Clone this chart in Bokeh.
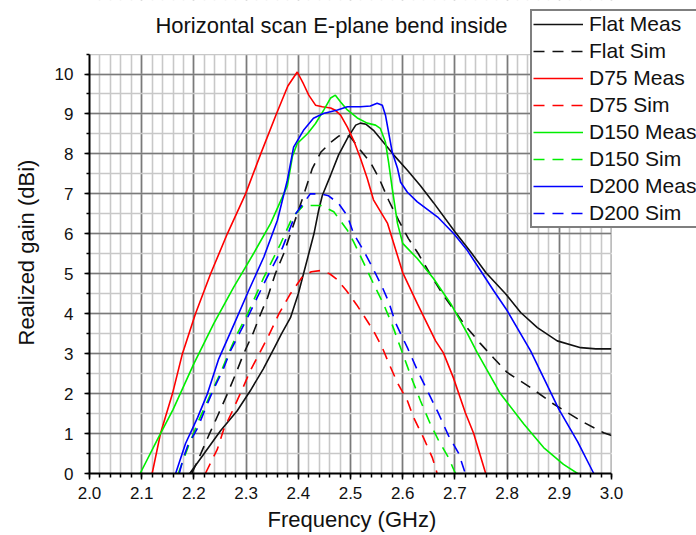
from bokeh.plotting import figure
from bokeh.models import (Range1d, SingleIntervalTicker, NumeralTickFormatter,
                          Legend, LegendItem, Label, BoxAnnotation, Title)
from bokeh.embed import file_html
from bokeh.resources import INLINE

# Realized gain (dBi) versus frequency (GHz) for the flat and bent antennas
flat_meas_f = [2.192, 2.219, 2.251, 2.283, 2.308, 2.333, 2.353, 2.368, 2.385, 2.400,
               2.410, 2.420, 2.430, 2.439, 2.446, 2.462, 2.477, 2.494, 2.510, 2.519,
               2.530, 2.544, 2.563, 2.583, 2.609, 2.634, 2.659, 2.700, 2.730, 2.760,
               2.797, 2.826, 2.858, 2.896, 2.941, 2.970, 3.000]
flat_meas_g = [0.0, 0.49, 1.07, 1.57, 2.07, 2.62, 3.12, 3.50, 3.90, 4.50,
               5.00, 5.50, 6.00, 6.59, 6.96, 7.47, 7.97, 8.39, 8.72, 8.77,
               8.74, 8.59, 8.29, 7.97, 7.59, 7.20, 6.78, 6.05, 5.55, 5.02,
               4.50, 4.03, 3.65, 3.32, 3.15, 3.12, 3.12]

flat_sim_f = [2.196, 2.213, 2.228, 2.247, 2.264, 2.280, 2.295, 2.313, 2.328, 2.341,
              2.356, 2.372, 2.385, 2.398, 2.410, 2.427, 2.443, 2.462, 2.478, 2.490,
              2.500, 2.519, 2.538, 2.554, 2.573, 2.592, 2.611, 2.630, 2.650, 2.676,
              2.698, 2.720, 2.749, 2.775, 2.800, 2.845, 2.889, 2.941, 2.985, 3.000]
flat_sim_g = [0.0, 0.49, 0.94, 1.49, 1.99, 2.49, 2.99, 3.50, 4.00, 4.40,
              5.00, 5.50, 6.00, 6.50, 6.96, 7.64, 8.04, 8.29, 8.45, 8.48,
              8.42, 8.09, 7.79, 7.41, 6.84, 6.34, 5.88, 5.50, 5.05, 4.50,
              4.10, 3.70, 3.25, 2.88, 2.53, 2.15, 1.74, 1.32, 1.02, 0.95]

d75_meas_f = [2.120, 2.136, 2.159, 2.178, 2.203, 2.232, 2.264, 2.299, 2.328, 2.358,
              2.380, 2.398, 2.410, 2.420, 2.433, 2.446, 2.462, 2.470, 2.481, 2.494,
              2.506, 2.519, 2.532, 2.544, 2.571, 2.600, 2.628, 2.663, 2.678, 2.697,
              2.720, 2.736, 2.759]
d75_meas_g = [0.0, 1.00, 2.00, 3.00, 4.00, 5.00, 6.00, 7.00, 8.00, 9.00,
              9.70, 10.05, 9.75, 9.47, 9.22, 9.18, 9.15, 9.10, 8.97, 8.67,
              8.34, 7.89, 7.39, 6.85, 6.26, 5.03, 4.25, 3.32, 3.02, 2.40,
              1.52, 1.00, 0.0]

d75_sim_f = [2.222, 2.245, 2.257, 2.274, 2.293, 2.308, 2.328, 2.345, 2.363, 2.385,
             2.408, 2.425, 2.443, 2.460, 2.475, 2.492, 2.512, 2.529, 2.545, 2.561,
             2.573, 2.590, 2.609, 2.621, 2.640, 2.657, 2.666]
d75_sim_g = [0.0, 0.61, 1.10, 1.57, 2.12, 2.57, 3.07, 3.50, 4.00, 4.50,
             4.93, 5.05, 5.08, 5.00, 4.85, 4.58, 4.22, 3.88, 3.55, 3.15,
             2.77, 2.27, 1.82, 1.40, 0.89, 0.39, 0.0]

d150_meas_f = [2.097, 2.130, 2.160, 2.200, 2.238, 2.276, 2.314, 2.347, 2.379, 2.389,
               2.398, 2.418, 2.433, 2.449, 2.462, 2.471, 2.481, 2.494, 2.513, 2.532,
               2.548, 2.557, 2.567, 2.573, 2.580, 2.590, 2.600, 2.628, 2.659, 2.692,
               2.724, 2.743, 2.787, 2.832, 2.870, 2.908, 2.935]
d150_meas_g = [0.0, 0.85, 1.60, 2.75, 3.75, 4.66, 5.50, 6.26, 7.20, 7.95,
               8.26, 8.51, 8.76, 9.10, 9.40, 9.47, 9.30, 9.10, 8.90, 8.77,
               8.72, 8.64, 8.29, 7.79, 7.13, 6.26, 5.76, 5.38, 4.88, 4.25,
               3.50, 3.02, 2.00, 1.24, 0.65, 0.23, 0.0]

d150_sim_f = [2.170, 2.190, 2.210, 2.232, 2.251, 2.266, 2.283, 2.303, 2.334, 2.366,
              2.389, 2.410, 2.443, 2.468, 2.494, 2.506, 2.525, 2.544, 2.563, 2.580,
              2.600, 2.619, 2.634, 2.653, 2.669, 2.688, 2.701]
d150_sim_g = [0.0, 0.70, 1.35, 1.99, 2.52, 2.99, 3.50, 4.00, 4.91, 5.75,
              6.42, 6.71, 6.71, 6.55, 6.09, 5.80, 5.28, 4.75, 4.25, 3.72,
              3.00, 2.32, 1.82, 1.24, 0.82, 0.39, 0.0]

d200_meas_f = [2.165, 2.184, 2.207, 2.226, 2.247, 2.277, 2.305, 2.334, 2.360, 2.379,
               2.391, 2.410, 2.429, 2.448, 2.475, 2.494, 2.519, 2.538, 2.551, 2.561,
               2.567, 2.573, 2.580, 2.590, 2.596, 2.609, 2.628, 2.667, 2.698, 2.724,
               2.749, 2.774, 2.800, 2.845, 2.899, 2.935, 2.966]
d200_meas_g = [0.0, 0.75, 1.40, 2.00, 2.85, 3.74, 4.58, 5.42, 6.34, 7.34,
               8.17, 8.59, 8.89, 9.01, 9.10, 9.18, 9.18, 9.20, 9.27, 9.22,
               8.97, 8.54, 8.04, 7.64, 7.29, 7.04, 6.80, 6.42, 6.00, 5.58,
               5.08, 4.58, 4.08, 3.07, 1.61, 0.80, 0.0]

d200_sim_f = [2.172, 2.180, 2.188, 2.207, 2.222, 2.238, 2.255, 2.270, 2.303, 2.337,
              2.370, 2.395, 2.423, 2.443, 2.458, 2.477, 2.494, 2.506, 2.525, 2.542,
              2.561, 2.573, 2.586, 2.596, 2.609, 2.630, 2.650, 2.669, 2.688, 2.707,
              2.720]
d200_sim_g = [0.0, 0.40, 0.69, 1.14, 1.62, 2.12, 2.57, 3.07, 3.91, 4.83,
              5.66, 6.50, 7.00, 7.00, 6.95, 6.76, 6.45, 6.00, 5.58, 5.16,
              4.66, 4.30, 3.78, 3.50, 3.15, 2.53, 2.00, 1.49, 0.94, 0.51,
              0.0]

series = [
    ("Flat Meas", flat_meas_f, flat_meas_g, "#111111", "solid"),
    ("Flat Sim", flat_sim_f, flat_sim_g, "#111111", "11 8"),
    ("D75 Meas", d75_meas_f, d75_meas_g, "#ff0000", "solid"),
    ("D75 Sim", d75_sim_f, d75_sim_g, "#ff0000", "11 8"),
    ("D150 Meas", d150_meas_f, d150_meas_g, "#00ee00", "solid"),
    ("D150 Sim", d150_sim_f, d150_sim_g, "#00ee00", "11 8"),
    ("D200 Meas", d200_meas_f, d200_meas_g, "#0000ff", "solid"),
    ("D200 Sim", d200_sim_f, d200_sim_g, "#0000ff", "11 8"),
]

FONT = "Liberation Sans"
INK = "#111111"
BIG = "22px"

X0, X1 = 2.0, 3.0      # drawn axis extent (GHz)
Y0, Y1 = 0.0, 10.5     # drawn axis extent (dBi)
PX_PER_GHZ = 522.0
PX_PER_DB = 39.95
FRAME_W, FRAME_H = 607, 473

# The frame reaches the top and right edges of the canvas so that the title
# and the legend can sit above and beside the gridded area.
p = figure(width=696, height=535, output_backend="svg", toolbar_location=None,
           x_range=Range1d(X0, X0 + FRAME_W / PX_PER_GHZ),
           y_range=Range1d(Y0, Y0 + FRAME_H / PX_PER_DB),
           min_border_left=89, min_border_right=0,
           min_border_top=0, min_border_bottom=62)
p.outline_line_color = None
p.background_fill_color = "white"
p.border_fill_color = "white"

# axes
p.xaxis.ticker = SingleIntervalTicker(interval=0.1, num_minor_ticks=5)
p.yaxis.ticker = SingleIntervalTicker(interval=1, num_minor_ticks=2)
p.xaxis.formatter = NumeralTickFormatter(format="0.0")
p.yaxis.formatter = NumeralTickFormatter(format="0")
p.xaxis.bounds = (X0, X1)
p.yaxis.bounds = (Y0, Y1)
for ax in (p.xaxis, p.yaxis):
    ax.axis_line_color = "black"
    ax.axis_line_width = 2
    ax.major_tick_line_color = "black"
    ax.major_tick_line_width = 1.5
    ax.minor_tick_line_color = "black"
    ax.minor_tick_line_width = 1.5
    ax.major_tick_in = 0
    ax.minor_tick_in = 0
    ax.major_label_text_font = FONT
    ax.major_label_text_font_size = "17px"
    ax.major_label_text_color = INK
p.xaxis.major_tick_out = 6
p.xaxis.minor_tick_out = 4
p.xaxis.major_label_standoff = 7
p.yaxis.major_tick_out = 5
p.yaxis.minor_tick_out = 3
p.yaxis.major_label_standoff = 11

# axis titles, anchored at their starting end
p.add_layout(Title(text="Realized gain (dBi)", align="left", offset=128,
                   standoff=24, vertical_align="middle", text_font=FONT,
                   text_font_size=BIG, text_font_style="normal",
                   text_color=INK), "left")
p.add_layout(Title(text="Frequency (GHz)", align="left", offset=178,
                   standoff=7, vertical_align="bottom", text_font=FONT,
                   text_font_size=BIG, text_font_style="normal",
                   text_color=INK), "below")

# grid
for g in (p.xgrid, p.ygrid):
    g.grid_line_color = "#7a7a7a"
    g.grid_line_width = 1.6
    g.minor_grid_line_color = "#c8c8c8"
    g.minor_grid_line_width = 1.6

items = []
for name, f, gain, color, dash in series:
    r = p.line(f, gain, line_color=color, line_width=1.6, line_dash=dash)
    items.append(LegendItem(label=name, renderers=[r]))

# blank out the grid outside the gridded area
p.add_layout(BoxAnnotation(left=X1, fill_color="white", fill_alpha=1.0,
                           line_color=None))
p.add_layout(BoxAnnotation(bottom=Y1, fill_color="white", fill_alpha=1.0,
                           line_color=None))

frame_bottom = 535 - 62
legend = Legend(items=items, location=(441, frame_bottom - 228),
                orientation="vertical",
                glyph_width=50, glyph_height=20, label_height=20,
                label_standoff=6, spacing=3, padding=1, margin=0,
                label_text_font=FONT, label_text_font_size="21px",
                label_text_color=INK,
                border_line_color="black", border_line_width=2,
                background_fill_color="white", background_fill_alpha=1.0)
p.add_layout(legend)

p.add_layout(Label(x=242, y=frame_bottom - 25, x_units="screen", y_units="screen",
                   text="Horizontal scan E-plane bend inside",
                   text_font=FONT, text_font_size=BIG, text_color=INK,
                   text_align="center", text_baseline="alphabetic"))

open("out.html", "w").write(file_html(p, INLINE))
